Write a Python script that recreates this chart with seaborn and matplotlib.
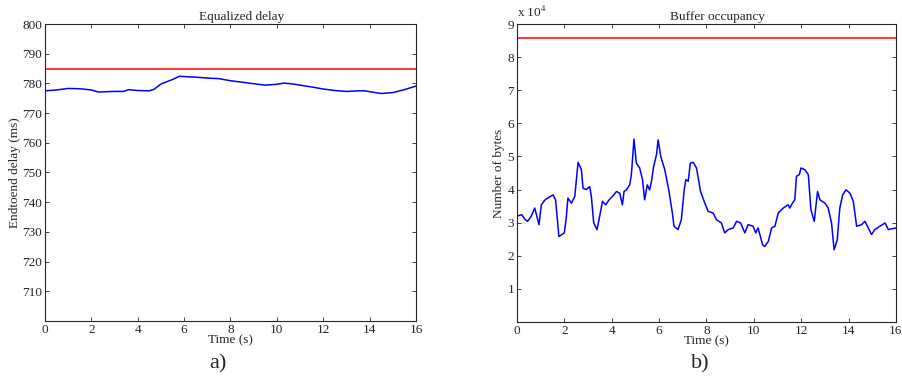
import numpy as np
import pandas as pd
import seaborn as sns
import matplotlib
matplotlib.use("Agg")
import matplotlib.pyplot as plt
from matplotlib.ticker import FuncFormatter

# Equalized delay (ms)
delay_time = [0, 0.5, 1, 1.5, 2, 2.3, 3, 3.4, 3.6, 4, 4.5, 4.7, 5, 5.5, 5.8, 6.2,
              6.5, 7, 7.5, 8, 8.5, 9, 9.5, 10, 10.3, 10.7, 11, 11.5, 12, 12.5,
              13, 13.5, 13.8, 14, 14.5, 15, 15.5, 16]
delay_ms = [777.5, 777.8, 778.3, 778.2, 777.8, 777.1, 777.3, 777.3, 777.9, 777.6,
            777.5, 778.0, 779.8, 781.3, 782.4, 782.2, 782.1, 781.8, 781.6, 780.9,
            780.4, 779.9, 779.4, 779.7, 780.1, 779.8, 779.4, 778.8, 778.1, 777.6,
            777.3, 777.5, 777.5, 777.2, 776.6, 776.9, 777.9, 779.1]
delay_limit = 785

# Buffer occupancy (x 10^4 bytes)
buf_time = [0, 0.2, 0.35, 0.45, 0.6, 0.75, 0.93, 1.03, 1.2, 1.52, 1.63, 1.77, 2.0,
            2.08, 2.15, 2.3, 2.44, 2.58, 2.72, 2.79, 2.93, 3.07, 3.14, 3.24, 3.38,
            3.49, 3.61, 3.75, 3.89, 4.03, 4.2, 4.34, 4.45, 4.52, 4.62, 4.76, 4.83,
            4.94, 5.04, 5.18, 5.3, 5.39, 5.5, 5.6, 5.68, 5.77, 5.89, 5.96, 6.07,
            6.24, 6.42, 6.56, 6.63, 6.8, 6.94, 7.06, 7.13, 7.23, 7.32, 7.44, 7.58,
            7.75, 7.93, 8.07, 8.28, 8.42, 8.63, 8.77, 8.92, 9.13, 9.27, 9.44, 9.62,
            9.76, 9.97, 10.08, 10.18, 10.37, 10.46, 10.61, 10.75, 10.89, 11.03,
            11.24, 11.45, 11.52, 11.63, 11.73, 11.8, 11.92, 11.99, 12.15, 12.3,
            12.41, 12.55, 12.69, 12.79, 13.0, 13.14, 13.28, 13.39, 13.52, 13.63,
            13.75, 13.89, 14.06, 14.2, 14.34, 14.55, 14.69, 14.83, 14.97, 15.11,
            15.32, 15.54, 15.68, 16]
buf_bytes_e4 = [3.2, 3.24, 3.09, 3.04, 3.19, 3.44, 2.94, 3.54, 3.7, 3.84, 3.69, 2.58,
                2.69, 3.14, 3.74, 3.59, 3.79, 4.82, 4.6, 4.04, 4.0, 4.09, 3.79, 2.99,
                2.79, 3.19, 3.64, 3.54, 3.69, 3.79, 3.94, 3.89, 3.54, 3.94, 3.99,
                4.14, 4.45, 5.52, 4.8, 4.65, 4.3, 3.69, 4.14, 3.99, 4.25, 4.7, 5.05,
                5.5, 5.0, 4.6, 3.94, 3.29, 2.89, 2.79, 3.09, 3.99, 4.3, 4.25, 4.8,
                4.82, 4.65, 3.94, 3.59, 3.34, 3.29, 3.09, 2.99, 2.69, 2.79, 2.84,
                3.04, 2.99, 2.69, 2.94, 2.89, 2.69, 2.84, 2.33, 2.28, 2.43, 2.84,
                2.89, 3.29, 3.44, 3.54, 3.44, 3.59, 3.69, 4.4, 4.45, 4.65, 4.6, 4.45,
                3.39, 3.04, 3.94, 3.69, 3.59, 3.44, 2.99, 2.18, 2.48, 3.44, 3.84,
                3.99, 3.89, 3.64, 2.89, 2.94, 3.04, 2.84, 2.64, 2.79, 2.89, 2.99,
                2.79, 2.84]
buf_limit_e4 = 8.57

sns.set_style("ticks")
plt.rcParams['font.family'] = ['Liberation Serif', 'DejaVu Serif']
plt.rcParams['font.size'] = 9.5
plt.rcParams['mathtext.fontset'] = 'stix'

fs = 9.5
fig = plt.figure(figsize=(9.03, 3.81), dpi=100)
ax1 = fig.add_axes([0.0498, 0.1575, 0.4109, 0.7795])
ax2 = fig.add_axes([0.5725, 0.155, 0.4197, 0.782])

df1 = pd.DataFrame({"t": delay_time, "d": delay_ms})
df2 = pd.DataFrame({"t": buf_time, "b": np.array(buf_bytes_e4) * 1e4})

sns.lineplot(data=df1, x="t", y="d", ax=ax1, color="blue", linewidth=1.1)
ax1.axhline(delay_limit, color="red", linewidth=1.1)
ax1.set_xlim(0, 16)
ax1.set_ylim(700, 800)
ax1.set_xticks(range(0, 17, 2))
ax1.set_yticks(range(710, 801, 10))
ax1.set_title("Equalized delay", fontsize=fs, x=0.53, pad=3)
ax1.set_xlabel("Time (s)", labelpad=-1, fontsize=fs)
ax1.set_ylabel("Endtoend delay (ms)", labelpad=1, fontsize=fs)

sns.lineplot(data=df2, x="t", y="b", ax=ax2, color="blue", linewidth=1.1)
ax2.axhline(buf_limit_e4 * 1e4, color="red", linewidth=1.1)
ax2.set_xlim(0, 16)
ax2.set_ylim(0, 9e4)
ax2.set_xticks(range(0, 17, 2))
ax2.set_yticks(np.arange(1, 10) * 1e4)
ax2.yaxis.set_major_formatter(FuncFormatter(lambda v, p: "%d" % round(v / 1e4)))
ax2.set_title("Buffer occupancy", fontsize=fs, x=0.53, pad=3)
ax2.set_xlabel("Time (s)", labelpad=-1, fontsize=fs)
ax2.set_ylabel("Number of bytes", labelpad=2, fontsize=fs)
ax2.text(0.0, 1.012, r"x 10$^{4}$", transform=ax2.transAxes, ha="left", va="bottom",
         fontsize=fs)

for ax in (ax1, ax2):
    ax.tick_params(direction="in", top=True, right=True, length=3, width=0.6,
                   pad=2, labelsize=fs)
    for s in ax.spines.values():
        s.set_linewidth(0.8)

fig.text(0.241, 0.032, "a)", fontsize=16, ha="center")
fig.text(0.775, 0.032, "b)", fontsize=16, ha="center")

fig.savefig("out.png", dpi=100)
